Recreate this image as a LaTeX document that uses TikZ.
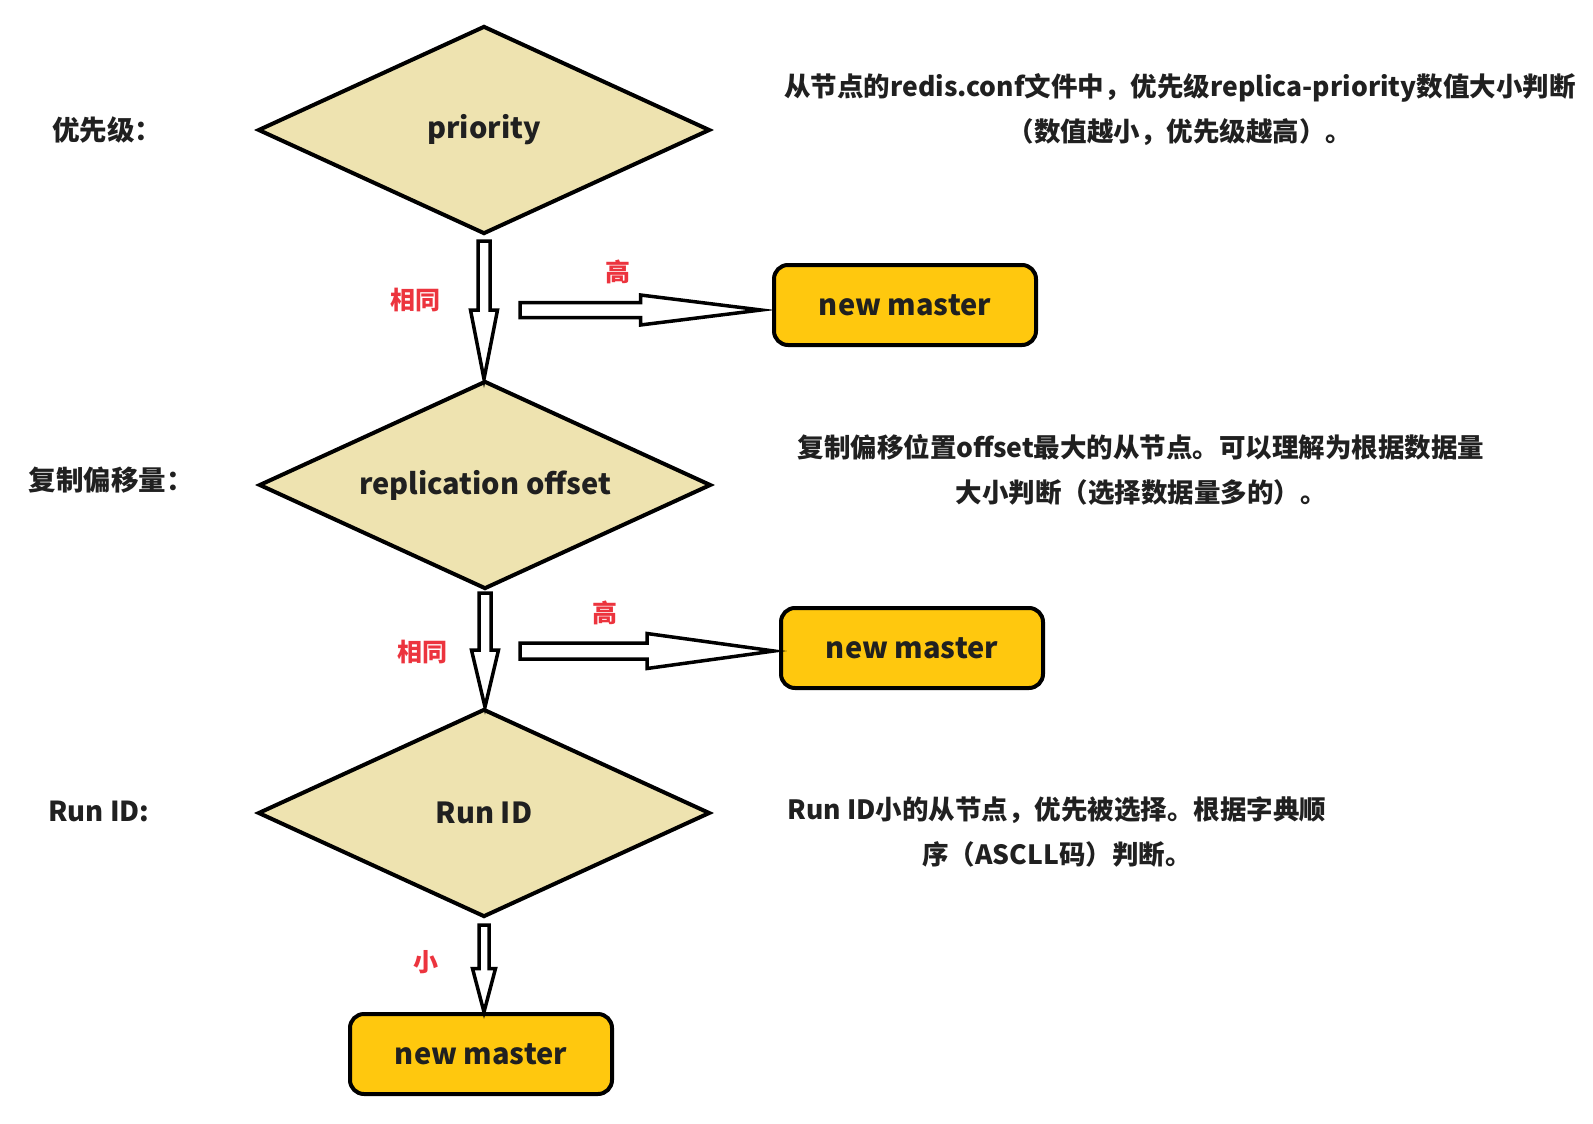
\documentclass[tikz,border=0pt]{standalone}
\usepackage{fontspec}
\setmainfont{Noto Sans CJK SC}
\usetikzlibrary{shapes.geometric,calc}

\definecolor{diamondfill}{RGB}{238,227,176}
\definecolor{masterfill}{RGB}{255,200,14}
\definecolor{labelred}{RGB}{236,52,62}
\definecolor{inkgrey}{RGB}{32,32,32}

\tikzset{
  decision/.style={diamond, aspect=2.17, draw=black, line width=4pt, fill=diamondfill,
    minimum width=452pt, minimum height=208pt, inner sep=0pt,
    font=\fontsize{29}{35}\selectfont\bfseries, text=inkgrey},
  master/.style={rectangle, rounded corners=14pt, draw=black, line width=4pt,
    fill=masterfill, minimum width=262pt, minimum height=80pt,
    font=\fontsize{29}{35}\selectfont\bfseries, text=inkgrey},
  steplabel/.style={font=\fontsize{27.5}{32}\selectfont\bfseries, text=inkgrey},
  note/.style={align=center, font=\fontsize{26.5}{45}\selectfont\bfseries, text=inkgrey},
  branch/.style={font=\fontsize{25}{30}\selectfont\bfseries, text=labelred},
  blockline/.style={draw=black, line width=3.5pt, fill=white},
}

% hollow block arrow pointing down: from, to, shaft half width, head half width
\newcommand{\blockdown}[4]{%
  \draw[blockline] let \p1=(#1), \p2=(#2), \n1={(\y1-\y2)/2} in
    (\x1-#3pt,\y1) -- (\x1+#3pt,\y1) -- (\x1+#3pt,\y1-\n1) -- (\x1+#4pt,\y1-\n1)
    -- (\x1,\y2) -- (\x1-#4pt,\y1-\n1) -- (\x1-#3pt,\y1-\n1) -- cycle;}
% hollow block arrow pointing right: from, to, shaft half width, head half width
\newcommand{\blockright}[4]{%
  \draw[blockline] let \p1=(#1), \p2=(#2), \n1={(\x2-\x1)/2} in
    (\x1,\y1+#3pt) -- (\x1+\n1,\y1+#3pt) -- (\x1+\n1,\y1+#4pt) -- (\x2,\y1)
    -- (\x1+\n1,\y1-#4pt) -- (\x1+\n1,\y1-#3pt) -- (\x1,\y1-#3pt) -- cycle;}

\begin{document}
\begin{tikzpicture}[x=1pt,y=-1pt]
  \useasboundingbox (0,0) rectangle (1593,1124);

  % Drawing decisions
  \node[decision] (prio) at (484,130) {priority};
  \node[decision] (repl) at (485,485) {replication offset};
  \node[decision] (runid) at (484,813) {Run ID};

  % Drawing new master boxes
  \node[master] (master1) at (905,305) {new master};
  \node[master] (master2) at (912,648) {new master};
  \node[master] (master3) at (481,1054) {new master};

  % Marking step names
  \node[steplabel] (prioname) at (107,130) {优先级：};
  \node[steplabel] (replname) at (111,480) {复制偏移量：};
  \node[steplabel] (runidname) at (99,811) {Run ID:};

  % Marking notes
  \node[note] (prionote) at (1180,110) {从节点的redis.conf文件中，优先级replica-priority数值大小判断\\（数值越小，优先级越高）。};
  \node[note] (replnote) at (1141,470) {复制偏移位置offset最大的从节点。可以理解为根据数据量\\大小判断（选择数据量多的）。};
  \node[note] (runidnote) at (1057,832) {Run ID小的从节点，优先被选择。根据字典顺\\序（ASCLL码）判断。};

  % Drawing arrows down
  \blockdown{[yshift=-5pt]prio.south}{repl.north}{6}{13.5}
  \blockdown{[yshift=-2pt]repl.south}{runid.north}{6}{13.5}
  \blockdown{[yshift=-6pt]runid.south}{master3.north}{5}{11.5}

  % Drawing arrows right
  \coordinate (high1) at (520,310);
  \coordinate (high2) at (520,651);
  \blockright{high1}{[xshift=-11pt,yshift=-5pt]master1.west}{7.5}{15}
  \blockright{high2}{[xshift=-5pt,yshift=-3pt]master2.west}{8}{17.5}

  % Marking branch labels
  \node[branch] (same1) at (415,300) {相同};
  \node[branch] (higher1) at (618,272) {高};
  \node[branch] (same2) at (422,652) {相同};
  \node[branch] (higher2) at (605,613) {高};
  \node[branch] (lower3) at (426,962) {小};
\end{tikzpicture}
\end{document}
